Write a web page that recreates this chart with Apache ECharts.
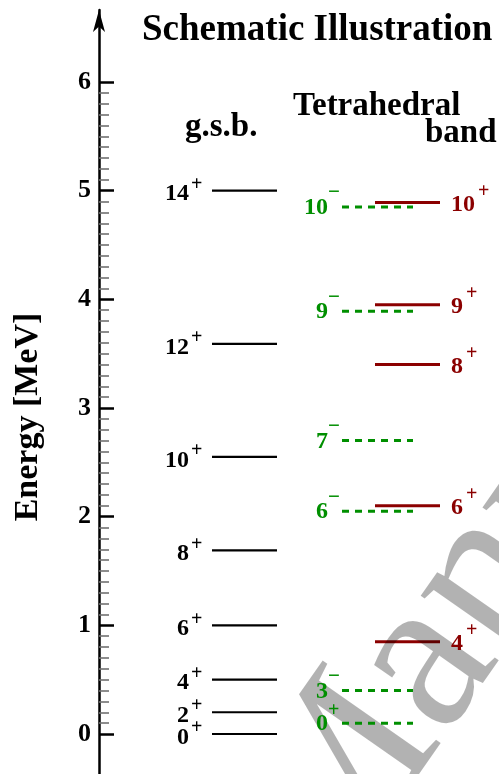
<!DOCTYPE html>
<html>
<head>
<meta charset="utf-8">
<script src="https://cdn.jsdelivr.net/npm/echarts@6/dist/echarts.min.js"></script>
<style>
  html, body { margin: 0; padding: 0; background: #ffffff; }
  #chart { width: 499px; height: 774px; }
</style>
</head>
<body>
<div id="chart"></div>
<script>
// Ground-state band: level energies (MeV), spins and parities
const gsbEnergy = [0.0, 0.2, 0.5, 1.0, 1.69, 2.55, 3.59, 5.0];
const gsbSpin = ['0', '2', '4', '6', '8', '10', '12', '14'];
const gsbParity = ['+', '+', '+', '+', '+', '+', '+', '+'];

// Tetrahedral band, odd-parity branch (plus its 0+ head)
const tetraOddEnergy = [0.10, 0.40, 2.05, 2.70, 3.89, 4.85];
const tetraOddSpin = ['0', '3', '6', '7', '9', '10'];
const tetraOddParity = ['+', '−', '−', '−', '−', '−'];

// Tetrahedral band, even-parity branch
const tetraEvenEnergy = [0.85, 2.10, 3.40, 3.95, 4.89];
const tetraEvenSpin = ['4', '6', '8', '9', '10'];
const tetraEvenParity = ['+', '+', '+', '+', '+'];

// Energy axis tick labels
const energyTicks = [0, 1, 2, 3, 4, 5, 6];

const SERIF = '"Liberation Serif", "Times New Roman", serif';
const BLACK = '#000000';
const GREEN = '#008f00';
const RED = '#8b0000';

function levelLines(energies, cfg) {
  return {
    type: 'custom',
    xAxisIndex: 0,
    yAxisIndex: 0,
    z: cfg.z,
    silent: true,
    clip: false,
    encode: { y: 0 },
    data: energies.map(function (e) { return [e]; }),
    renderItem: function (params, api) {
      const e = api.value(0);
      const a = api.coord([cfg.x1, e]);
      const b = api.coord([cfg.x2, e]);
      return {
        type: 'line',
        shape: { x1: a[0], y1: a[1], x2: b[0], y2: b[1] },
        style: {
          stroke: cfg.color,
          lineWidth: cfg.width,
          lineDash: cfg.dash || null,
          lineCap: 'butt'
        }
      };
    }
  };
}

function levelLabels(energies, spins, parity, cfg) {
  return {
    type: 'custom',
    xAxisIndex: 0,
    yAxisIndex: 0,
    z: cfg.z,
    silent: true,
    clip: false,
    encode: { y: 0 },
    data: energies.map(function (e) { return [e]; }),
    renderItem: function (params, api) {
      const i = params.dataIndex;
      const e = api.value(0);
      const p = api.coord([cfg.x, e]);
      const spin = spins[i];
      const sign = parity[i];
      const supX = cfg.side === 'left'
        ? p[0] + cfg.supGap
        : p[0] + spin.length * 12 + cfg.supGap;
      const supDy = sign === '+' ? cfg.plusDy : cfg.minusDy;
      return {
        type: 'group',
        children: [
          {
            type: 'text',
            x: p[0],
            y: p[1] + cfg.numDy,
            style: {
              text: spin,
              fill: cfg.color,
              font: 'bold 24px ' + SERIF,
              align: cfg.side === 'left' ? 'right' : 'left',
              verticalAlign: 'middle'
            }
          },
          {
            type: 'text',
            x: supX,
            y: p[1] + supDy,
            style: {
              text: sign,
              fill: cfg.color,
              font: 'bold ' + (sign === '+' ? 20 : 21) + 'px ' + SERIF,
              align: 'left',
              verticalAlign: 'middle'
            }
          }
        ]
      };
    }
  };
}

const chart = echarts.init(document.getElementById('chart'), null, { renderer: 'canvas' });

const option = {
  animation: false,
  backgroundColor: '#ffffff',
  grid: [
    {
      // 0 MeV at y = 734, 6 MeV at y = 82
      left: 99,
      right: 0,
      top: 82,
      bottom: 40,
      outerBoundsMode: 'none',
      containLabel: false
    },
    {
      // axis spine with the arrow head
      left: 99,
      right: 0,
      top: 10,
      bottom: -40,
      outerBoundsMode: 'none',
      containLabel: false
    }
  ],
  xAxis: [
    { gridIndex: 0, type: 'value', min: 99, max: 499, show: false },
    { gridIndex: 1, type: 'value', min: 0, max: 1, show: false }
  ],
  yAxis: [
    {
      gridIndex: 0,
      type: 'value',
      min: 0,
      max: 6,
      interval: 1,
      name: 'Energy [MeV]',
      nameLocation: 'middle',
      nameRotate: 90,
      nameGap: 54,
      nameTextStyle: {
        fontFamily: SERIF,
        fontWeight: 'bold',
        fontSize: 34,
        color: BLACK,
        padding: [0, 18, 0, 0]
      },
      axisLine: { show: false },
      splitLine: { show: false },
      axisTick: {
        show: true,
        inside: true,
        length: 15,
        lineStyle: { color: BLACK, width: 2.5 }
      },
      minorTick: {
        show: true,
        splitNumber: 10,
        length: 10,
        lineStyle: { color: '#707070', width: 1.6 }
      },
      axisLabel: {
        show: true,
        margin: 8,
        fontFamily: SERIF,
        fontWeight: 'bold',
        fontSize: 26,
        color: BLACK,
        padding: [7, 0, 0, 0],
        showMinLabel: true,
        showMaxLabel: true,
        formatter: function (v) {
          return energyTicks.indexOf(v) >= 0 ? String(v) : '';
        }
      }
    },
    {
      gridIndex: 1,
      type: 'value',
      min: 0,
      max: 1,
      axisLine: {
        show: true,
        symbol: ['none', 'arrow'],
        symbolSize: [9, 22],
        lineStyle: { color: BLACK, width: 2.5 }
      },
      axisTick: { show: false },
      axisLabel: { show: false },
      splitLine: { show: false }
    }
  ],
  graphic: [
    {
      type: 'text',
      x: 142,
      y: 30.5,
      style: {
        text: 'Schematic Illustration',
        font: 'bold 37px ' + SERIF,
        fill: BLACK,
        verticalAlign: 'middle'
      }
    },
    {
      type: 'text',
      x: 185,
      y: 127,
      style: { text: 'g.s.b.', font: 'bold 33px ' + SERIF, fill: BLACK, verticalAlign: 'middle' }
    },
    {
      type: 'text',
      x: 293,
      y: 106,
      style: { text: 'Tetrahedral', font: 'bold 33px ' + SERIF, fill: BLACK, verticalAlign: 'middle' }
    },
    {
      type: 'text',
      x: 425,
      y: 133,
      style: { text: 'band', font: 'bold 33px ' + SERIF, fill: BLACK, verticalAlign: 'middle' }
    },
    {
      type: 'text',
      z: 2,
      x: 375,
      y: 928,
      rotation: Math.PI * 55 / 180,
      silent: true,
      style: {
        text: 'Manuscript',
        font: '220px ' + SERIF,
        fill: 'rgba(0,0,0,0.3)',
        verticalAlign: 'bottom'
      }
    }
  ],
  series: [
    levelLines(tetraEvenEnergy, { x1: 375, x2: 440, color: RED, width: 3, z: 1 }),
    levelLines(gsbEnergy, { x1: 212, x2: 277, color: BLACK, width: 2.2, z: 3 }),
    levelLines(tetraOddEnergy, { x1: 342, x2: 413, color: GREEN, width: 3, dash: [7, 6], z: 3 }),
    levelLabels(gsbEnergy, gsbSpin, gsbParity, {
      x: 189, side: 'left', supGap: 2, color: BLACK,
      numDy: 3.5, plusDy: -6, minusDy: -14, z: 4
    }),
    levelLabels(tetraOddEnergy, tetraOddSpin, tetraOddParity, {
      x: 328, side: 'left', supGap: 0, color: GREEN,
      numDy: 1, plusDy: -12, minusDy: -14, z: 4
    }),
    levelLabels(tetraEvenEnergy, tetraEvenSpin, tetraEvenParity, {
      x: 451, side: 'right', supGap: 3, color: RED,
      numDy: 2, plusDy: -11, minusDy: -14, z: 4
    })
  ]
};

chart.setOption(option);
</script>
</body>
</html>
